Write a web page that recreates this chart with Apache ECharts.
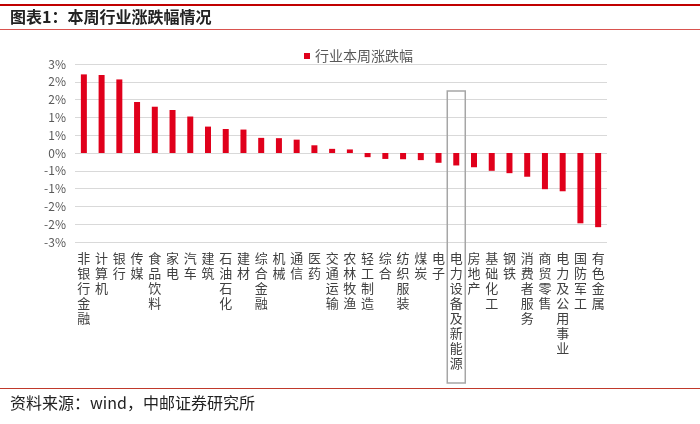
<!DOCTYPE html>
<html><head><meta charset="utf-8">
<script src="https://cdn.jsdelivr.net/npm/echarts@6/dist/echarts.min.js"></script>
<style>html,body{margin:0;padding:0;background:#fff}#c{width:700px;height:424px}</style>
</head><body><div id="c"></div>
<script>
const categories = ['非银行金融','计算机','银行','传媒','食品饮料','家电','汽车','建筑','石油石化','建材','综合金融','机械','通信','医药','交通运输','农林牧渔','轻工制造','综合','纺织服装','煤炭','电子','电力设备及新能源','房地产','基础化工','钢铁','消费者服务','商贸零售','电力及公用事业','国防军工','有色金属'];
const values = [2.65,2.63,2.48,1.72,1.56,1.45,1.23,0.89,0.81,0.79,0.51,0.50,0.45,0.26,0.14,0.12,-0.14,-0.20,-0.21,-0.24,-0.33,-0.42,-0.48,-0.60,-0.68,-0.80,-1.22,-1.29,-2.37,-2.50];
const seriesName = '行业本周涨跌幅';
const highlightIndex = 21;
const FONT = '"Noto Sans CJK SC", "Noto Sans", sans-serif';

const chart = echarts.init(document.getElementById('c'), null, {renderer:'canvas'});
const option = {
  animation: false,
  backgroundColor: '#fff',
  textStyle: {fontFamily: FONT},
  grid: {left: 75, right: 93, top: 64, bottom: 182},
  legend: {
    data: [seriesName], top: 44, left: 299, icon: 'rect', itemWidth: 6, itemHeight: 6, itemGap: 5,
    textStyle: {fontSize: 14, color: '#595959', fontFamily: FONT}
  },
  xAxis: {
    type: 'category', data: categories,
    axisLine: {show: false, onZero: false},
    axisTick: {show: false},
    axisLabel: {
      interval: 0, margin: 9, color: '#404040', fontSize: 13, lineHeight: 15, fontFamily: FONT,
      verticalAlign: 'top',
      formatter: v => v.split('').join('\n')
    }
  },
  yAxis: {
    type: 'value', min: -3, max: 3, interval: 0.6,
    axisLine: {show: false}, axisTick: {show: false},
    splitLine: {lineStyle: {color: '#d9d9d9', width: 1}},
    axisLabel: {
      color: '#595959', fontSize: 12, margin: 9, fontFamily: FONT,
      formatter: v => (Math.abs(v) < 1e-9 ? '0' : v.toFixed(0)) + '%'
    }
  },
  series: [{
    name: seriesName, type: 'bar', data: values, barWidth: 6,
    itemStyle: {color: '#E0001B'}
  }],
  graphic: [
    {type: 'line', shape: {x1: 0, y1: 5, x2: 700, y2: 5}, style: {stroke: '#C00000', lineWidth: 2}},
    {type: 'text', left: 10, top: 9, style: {text: '图表1：本周行业涨跌幅情况', font: 'bold 16px ' + FONT, fill: '#222'}},
    {type: 'line', shape: {x1: 0, y1: 29.5, x2: 700, y2: 29.5}, style: {stroke: '#D9534F', lineWidth: 1}},
    {type: 'line', shape: {x1: 0, y1: 388.5, x2: 700, y2: 388.5}, style: {stroke: '#C0392B', lineWidth: 1}},
    {type: 'text', left: 10, top: 395, style: {text: '资料来源：wind，中邮证券研究所', font: '16px ' + FONT, fill: '#222'}}
  ]
};
chart.setOption(option);
const cx = chart.convertToPixel({xAxisIndex: 0}, categories[highlightIndex]);
chart.setOption({graphic: option.graphic.concat([
  {type: 'rect', shape: {x: cx - 9, y: 91, width: 18, height: 292}, style: {fill: 'none', stroke: '#a6a6a6', lineWidth: 1.5}, z: 10}
])});
</script>
</body></html>
